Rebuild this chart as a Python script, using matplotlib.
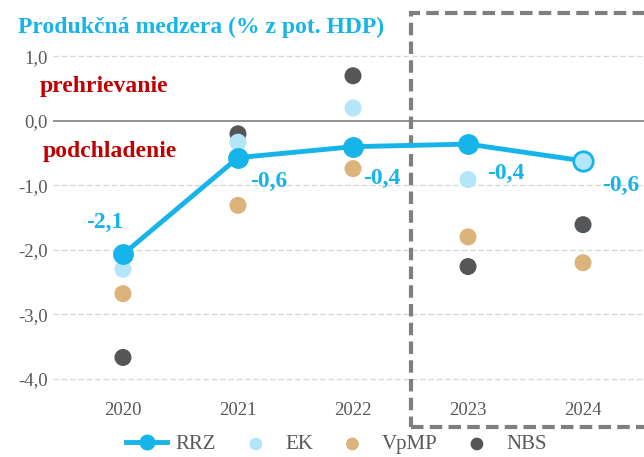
import matplotlib.pyplot as plt
from matplotlib.patches import Rectangle

# data
years = ['2020', '2021', '2022', '2023', '2024']
rrz = [-2.07, -0.57, -0.40, -0.36, -0.62]
rrz_labels = ['-2,1', '-0,6', '-0,4', '-0,4', '-0,6']
ek = [-2.3, -0.33, 0.2, -0.91, -0.6]
vpmp = [-2.68, -1.31, -0.74, -1.8, -2.2]
nbs = [-3.67, -0.2, 0.7, -2.26, -1.61]
yticks = [1.0, 0.0, -1.0, -2.0, -3.0, -4.0]

c_rrz = '#16b4e8'
c_ek = '#b2e6f8'
c_vpmp = '#dbb37b'
c_nbs = '#555658'
c_red = '#c00000'
c_tick = '#595959'

plt.rcParams['font.family'] = ['Liberation Serif', 'DejaVu Serif']

fig = plt.figure(figsize=(6.44, 4.57), dpi=100)
ax = fig.add_axes([0.082, 0.129, 0.918, 0.818])

x = list(range(len(years)))

# grid + zero line
for v in yticks:
    if v == 0:
        ax.axhline(v, color='#7f7f7f', lw=1.2, zorder=1)
    else:
        ax.axhline(v, color='#d9d9d9', lw=1, ls=(0, (4, 2)), zorder=1)

ax.scatter(x, nbs, s=150, color=c_nbs, zorder=3, label='NBS', edgecolors='none')
ax.scatter(x, vpmp, s=150, color=c_vpmp, zorder=3, label='VpMP', edgecolors='none')
ax.scatter(x, ek, s=150, color=c_ek, zorder=4, label='EK', edgecolors='none')
ax.plot(x, rrz, color=c_rrz, lw=3.5, marker='o', ms=14, zorder=5, label='RRZ')
# posledny bod RRZ - svetla vypln
ax.plot(x[-1], rrz[-1], marker='o', ms=14, mfc=c_ek, mec=c_rrz, mew=2, zorder=6)

offsets = [(-0.16, 0.49), (0.27, -0.37), (0.25, -0.5), (0.33, -0.45), (0.33, -0.38)]
for xi, yi, lab, (dx, dy) in zip(x, rrz, rrz_labels, offsets):
    ax.text(xi + dx, yi + dy, lab, color=c_rrz, fontsize=17, fontweight='bold',
            ha='center', va='center', zorder=6)

ax.text(-0.72, 0.54, 'prehrievanie', color=c_red, fontsize=17, fontweight='bold',
        ha='left', va='center')
ax.text(-0.70, -0.47, 'podchladenie', color=c_red, fontsize=17, fontweight='bold',
        ha='left', va='center')

# ramcek prognozy
box = Rectangle((2.5, -4.75), 2.5, 6.42, fill=False, ec='#7f7f7f', lw=3,
                ls=(0, (3, 1.5)), clip_on=False, zorder=2)
ax.add_patch(box)

ax.set_xlim(-0.61, 4.53)
ax.set_ylim(-4.3, 1.5)
ax.set_yticks(yticks)
ax.set_yticklabels([('%.1f' % v).replace('.', ',') for v in yticks])
ax.set_xticks(x)
ax.set_xticklabels(years)
ax.tick_params(length=0, colors=c_tick, labelsize=13.5)
ax.tick_params(axis='x', pad=3)
for s in ax.spines.values():
    s.set_visible(False)

fig.text(0.028, 0.939, 'Produkčná medzera (% z pot. HDP)', color=c_rrz,
         fontsize=17, fontweight='bold', ha='left', va='center')

h, l = ax.get_legend_handles_labels()
order = [3, 2, 1, 0]
fig.legend([h[i] for i in order], [l[i] for i in order], loc='center',
           bbox_to_anchor=(0.522, 0.027), ncol=4, frameon=False, fontsize=15,
           labelcolor=c_tick, handlelength=2.0, columnspacing=0.9, handletextpad=0.4,
           markerscale=0.75)

plt.savefig('out.png', dpi=100)
